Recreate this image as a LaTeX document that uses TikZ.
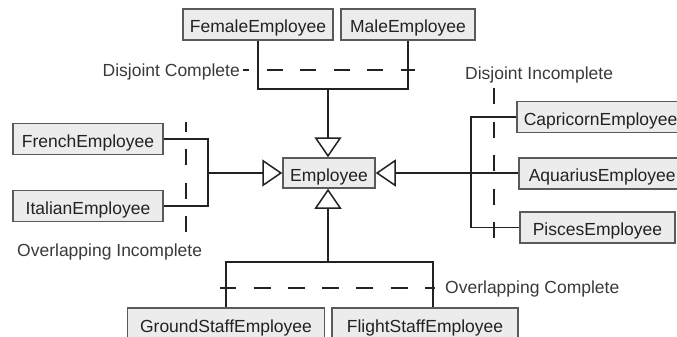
\documentclass[tikz,border=0pt]{standalone}
\usepackage{fontspec}
\setmainfont{Liberation Sans}
\usetikzlibrary{arrows.meta}
\definecolor{boxfill}{HTML}{ECECEC}
\definecolor{boxline}{HTML}{5A5A5A}
\definecolor{ink}{HTML}{222222}
\definecolor{lbl}{HTML}{3A3A3A}
\begin{document}
\begin{tikzpicture}[x=1pt,y=-1pt,
  cls/.style={draw=boxline, fill=boxfill, line width=1.5pt, text=ink,
    font=\fontsize{17.5}{20}\selectfont, minimum height=31pt,
    inner sep=0pt, text height=16pt, text depth=0pt},
  wire/.style={draw=ink, line width=1.5pt},
  gen/.style={wire, -{Triangle[open, length=20pt, width=27pt]}},
  hint/.style={wire, dash pattern=on 16pt off 17.5pt},
  note/.style={text=lbl, font=\fontsize{17.5}{20}\selectfont, inner sep=0pt}]
\useasboundingbox (0,0) rectangle (677,337);
\clip (0,0) rectangle (677,337);

% classes
\node[cls, minimum width=150pt] (female) at (258,24.5) {FemaleEmployee};
\node[cls, minimum width=134pt] (male) at (408,24.5) {MaleEmployee};
\node[cls, minimum width=150pt] (french) at (88,139) {FrenchEmployee};
\node[cls, minimum width=150pt] (italian) at (88,206) {ItalianEmployee};
\node[cls, minimum width=92pt, minimum height=30pt] (emp) at (329,173) {Employee};
\node[cls, anchor=west, inner xsep=7pt] (capri) at (516,117) {CapricornEmployee};
\node[cls, anchor=west, inner xsep=10pt] (aqua) at (518,173.5) {AquariusEmployee};
\node[cls, minimum width=155pt] (pisces) at (597.5,227.5) {PiscesEmployee};
\node[cls, minimum width=197pt, minimum height=32pt] (ground) at (226,324) {GroundStaffEmployee};
\node[cls, minimum width=186pt, minimum height=32pt] (flight) at (425,324) {FlightStaffEmployee};

% junction points of the generalization sets
\coordinate (tj) at (328,89);
\coordinate (lj) at (208,173);
\coordinate (rj) at (471,173);
\coordinate (bj) at (328,262);

% generalization trees
\draw[wire] (female.south) |- (tj) -| (male.south);
\draw[gen] (tj) -- (tj |- emp.north);
\draw[wire] (french.east) -| (lj) |- (italian.east);
\draw[gen] (lj) -- (emp.west);
\draw[wire] (capri.west) -| (rj) |- (pisces.west);
\draw[wire] (aqua.west |- rj) -- (rj);
\draw[gen] (rj) -- (emp.east);
\draw[wire] (ground.north) |- (bj) -| ([xshift=8pt]flight.north);
\draw[gen] (bj) -- (bj |- emp.south);

% constraint markers
\coordinate (dc1) at (243,70);
\coordinate (dc2) at (415,70);
\draw[hint, dash phase=10pt] (dc1) -- (dc2);
\node[note, anchor=base east] (dclbl) at (240,77) {Disjoint Complete};

\coordinate (oi1) at (186,122);
\coordinate (oi2) at (186,233);
\draw[hint, dash phase=6.5pt] (oi1) -- (oi2);
\node[note, anchor=base west] (oilbl) at (17,256) {Overlapping Incomplete};

\coordinate (di1) at (494,88);
\coordinate (di2) at (494,240);
\draw[hint] (di1) -- (di2);
\node[note, anchor=base west] (dilbl) at (465,79) {Disjoint Incomplete};

\coordinate (oc1) at (220,288);
\coordinate (oc2) at (435,288);
\draw[hint, dash pattern=on 17pt off 17.3pt, dash phase=0.8pt] (oc1) -- (oc2);
\node[note, anchor=base west] (oclbl) at (445,293) {Overlapping Complete};
\end{tikzpicture}
\end{document}
